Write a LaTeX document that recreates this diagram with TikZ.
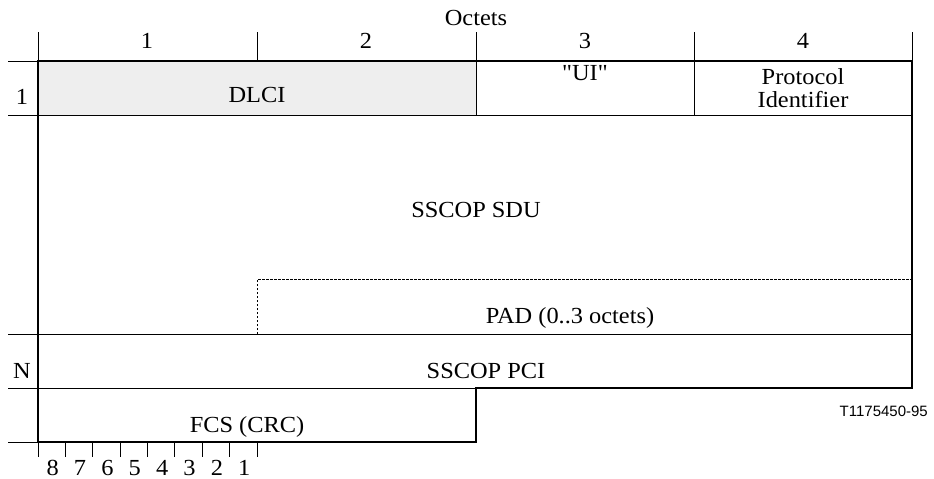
\documentclass[tikz,border=0pt]{standalone}
\usepackage{fontspec}
\setmainfont[FakeStretch=1.06,Ligatures=TeXOff]{Liberation Serif}
\newfontfamily\figsans{Liberation Sans}
\definecolor{dlcigrey}{RGB}{238,238,238}
\begin{document}
\begin{tikzpicture}[x=1pt,y=-1pt,
  thickline/.style={line width=2.5pt, line join=miter},
  thinline/.style={line width=0.9pt},
  dashline/.style={line width=0.8pt, dash pattern=on 2.5pt off 1.5pt},
  lbl/.style={inner sep=0pt, anchor=base, font=\fontsize{23}{20}\selectfont},
  twoline/.style={inner sep=0pt, align=center, anchor=center, font=\fontsize{23}{22.5}\selectfont},
  reflbl/.style={inner sep=0pt, anchor=base east, font=\figsans\fontsize{15}{15}\selectfont}]
\useasboundingbox (0,0) rectangle (934,479);
% corner coordinates
\coordinate (tl) at (38,61);
\coordinate (tr) at (912,61);
\coordinate (rs) at (912,388);
\coordinate (ms) at (476,388);
\coordinate (mb) at (476,442);
\coordinate (bl) at (38,442);
% grey DLCI field
\fill[dlcigrey] (38,61) rectangle (476,115);
% thin lines
\draw[thinline] (8,61) -- (tl);
\draw[thinline] (8,115) -- (912,115);
\draw[thinline] (8,334) -- (912,334);
\draw[thinline] (8,388) -- (ms);
\draw[thinline] (8,442) -- (bl);
\draw[thinline] (476,61) -- (476,115);
\draw[thinline] (694,61) -- (694,115);
% top ticks
\foreach \x in {38,257,476,694,912} \draw[thinline] (\x,32) -- (\x,61);
% bit ticks
\foreach \k in {0,...,8} \draw[thinline] ({38+27.375*\k},442) -- ({38+27.375*\k},457);
% dashed PAD boundary
\draw[dashline] (257,334) -- (257,279) -- (912,279);
% thick outline
\draw[thickline] (tl) -- (tr) -- (rs) -- (ms) -- (mb) -- (bl) -- cycle;
% texts
\node[lbl] (octets) at (476,25) {Octets};
\node[lbl] (c1) at (147,48) {1};
\node[lbl] (c2) at (366,48) {2};
\node[lbl] (c3) at (585,48) {3};
\node[lbl] (c4) at (803,48) {4};
\node[lbl] (r1) at (22,104) {1};
\node[lbl] (rn) at (22,378) {N};
\node[lbl] (dlci) at (257,102) {DLCI};
\node[lbl] (ui) at (585,80) {"UI"};
\node[twoline] (proto) at (803,88) {Protocol\\Identifier};
\node[lbl] (sdu) at (476,217) {SSCOP SDU};
\node[lbl] (pad) at (570,323) {PAD (0..3 octets)};
\node[lbl] (pci) at (486,378) {SSCOP PCI};
\node[lbl] (fcs) at (247,432) {FCS (CRC)};
\foreach \b [count=\i from 0] in {8,7,6,5,4,3,2,1}
  \node[lbl] (bit\b) at ({38+27.375*(\i+0.5)+1},475) {\b};
\node[reflbl] (ref) at (928,416) {T1175450-95};
\end{tikzpicture}
\end{document}
